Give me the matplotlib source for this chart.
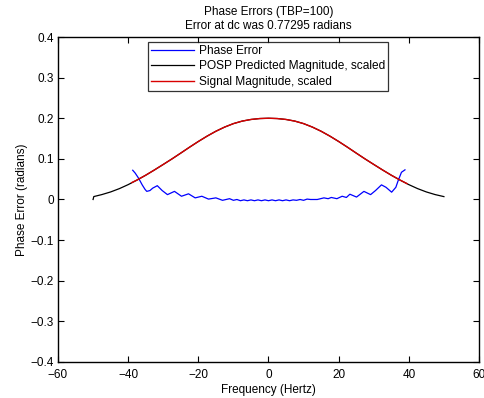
import matplotlib
matplotlib.use("Agg")
import matplotlib.pyplot as plt

plt.rcParams['font.family'] = ['Liberation Sans', 'DejaVu Sans']

# POSP predicted magnitude (scaled)
posp_freq = [-50, -49.8, -47.5, -45, -42.5, -40, -37.5, -35, -32.5, -30, -27.5, -25, -22.5,
             -20, -17.5, -15, -12.5, -10, -7.5, -5, -2.5, 0, 2.5, 5, 7.5, 10, 12.5, 15,
             17.5, 20, 22.5, 25, 27.5, 30, 32.5, 35, 37.5, 40, 42.5, 45, 47.5, 50]
posp_mag = [0.000, 0.0072, 0.0121, 0.0186, 0.0268, 0.0366, 0.0478, 0.0598, 0.0728, 0.0863,
            0.1000, 0.1143, 0.1288, 0.1428, 0.1560, 0.1680, 0.1783, 0.1868, 0.1930, 0.1970,
            0.1993, 0.2000, 0.1993, 0.1970, 0.1930, 0.1868, 0.1783, 0.1680, 0.1560, 0.1428,
            0.1288, 0.1143, 0.1000, 0.0863, 0.0728, 0.0598, 0.0478, 0.0366, 0.0268, 0.0186,
            0.0121, 0.0071]

# Signal magnitude (scaled)
sig_freq = [-39, -37.5, -35, -32.5, -30, -27.5, -25, -22.5, -20, -17.5, -15, -12.5, -10,
            -7.5, -5, -2.5, 0, 2.5, 5, 7.5, 10, 12.5, 15, 17.5, 20, 22.5, 25, 27.5, 30,
            32.5, 35, 37.5, 39.5]
sig_mag = [0.0415, 0.0478, 0.0598, 0.0728, 0.0863, 0.1000, 0.1143, 0.1288, 0.1428, 0.1560,
           0.1680, 0.1783, 0.1868, 0.1930, 0.1970, 0.1993, 0.2000, 0.1993, 0.1970, 0.1930,
           0.1868, 0.1783, 0.1680, 0.1560, 0.1428, 0.1288, 0.1143, 0.1000, 0.0863, 0.0728,
           0.0598, 0.0478, 0.0390]

# Phase error
err_freq = [-38.7, -38.0, -37.0, -36.0, -35.2, -34.7, -33.8, -33.0, -31.7, -30.3, -28.8,
            -26.8, -24.8, -22.8, -20.9, -19.0, -17.1, -15.0, -13.1, -11.1, -10.0, -9.0,
            -8.0, -7.0, -6.0, -5.0, -4.0, -3.0, -2.0, -1.0, 0.0, 1.0, 2.0, 3.0, 4.0, 5.0,
            6.0, 7.0, 8.0, 9.0, 10.0, 11.0, 12.0, 13.9, 15.8, 17.0, 17.9, 19.5, 21.0, 22.2,
            23.2, 25.1, 27.2, 29.1, 30.5, 32.2, 33.5, 35.1, 36.3, 36.9, 37.9, 38.9]
err_val = [0.072, 0.065, 0.052, 0.036, 0.025, 0.020, 0.022, 0.028, 0.034, 0.022, 0.012,
           0.020, 0.008, 0.014, 0.004, 0.008, 0.001, 0.004, -0.002, 0.002, -0.002, 0.000,
           -0.003, -0.001, -0.003, -0.001, -0.003, -0.001, -0.003, -0.001, -0.003, -0.001,
           -0.003, -0.001, -0.003, -0.001, -0.003, -0.001, -0.002, 0.000, -0.002, 0.001,
           0.000, 0.000, 0.004, 0.002, 0.005, 0.002, 0.008, 0.005, 0.013, 0.006, 0.020,
           0.012, 0.022, 0.036, 0.030, 0.018, 0.030, 0.045, 0.067, 0.073]

x_ticks = [-60, -40, -20, 0, 20, 40, 60]
y_ticks = [-0.4, -0.3, -0.2, -0.1, 0, 0.1, 0.2, 0.3, 0.4]
y_ticklabels = ['\u22120.4', '\u22120.3', '\u22120.2', '\u22120.1', '0', '0.1', '0.2', '0.3', '0.4']

fig = plt.figure(figsize=(4.85, 3.98), dpi=100)
ax = fig.add_axes([0.1196, 0.0905, 0.868, 0.8165])

ax.plot(err_freq, err_val, color=(0, 0, 1), lw=0.9, label='Phase Error')
ax.plot(posp_freq, posp_mag, color='black', lw=0.9, label='POSP Predicted Magnitude, scaled')
ax.plot(sig_freq, sig_mag, color=(0.85, 0, 0), lw=1.0, label='Signal Magnitude, scaled')

ax.set_xlim(-60, 60)
ax.set_ylim(-0.4, 0.4)
ax.set_xticks(x_ticks)
ax.set_yticks(y_ticks)
ax.set_yticklabels(y_ticklabels)
ax.tick_params(direction='in', top=True, right=True, length=4, width=0.8, labelsize=8.5)
ax.tick_params(axis='x', pad=5)
ax.tick_params(axis='y', pad=3)
for s in ax.spines.values():
    s.set_linewidth(1.0)

ax.set_xlabel('Frequency (Hertz)', fontsize=8.5, labelpad=2.5)
ax.set_ylabel('Phase Error (radians)', fontsize=8.5, labelpad=2)
ax.set_title('Phase Errors (TBP=100)\nError at dc was 0.77295 radians', fontsize=8.5,
             linespacing=1.2, pad=6)

leg = ax.legend(loc='upper center', fontsize=8.6, frameon=True, fancybox=False,
                edgecolor='black', handlelength=3.6, handletextpad=0.4,
                borderpad=0.25, labelspacing=0.3, borderaxespad=0.4)
leg.get_frame().set_linewidth(0.9)

fig.savefig('out.png', dpi=100)
